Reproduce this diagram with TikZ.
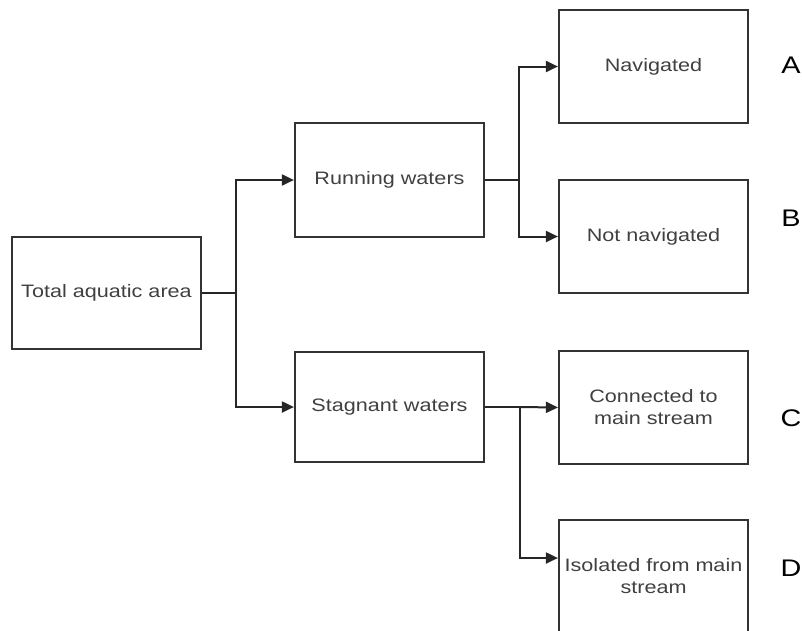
\documentclass[tikz,border=0pt]{standalone}
\usepackage{fontspec}
\setmainfont{Liberation Sans}[FakeStretch=1.2]
\usetikzlibrary{arrows.meta}
\tikzset{
  box/.style={draw=black!80, line width=2.2pt, minimum width=189pt, inner sep=0pt,
    align=center, text=black!75, font=\fontsize{18}{22}\selectfont},
  arr/.style={line width=2pt, draw=black!85, -{Triangle[length=12pt,width=11pt]}},
  ln/.style={line width=2pt, draw=black!85},
  lab/.style={font=\fontsize{24}{27}\selectfont, text=black}
}
\begin{document}
\begin{tikzpicture}[x=1pt,y=-1pt]
\useasboundingbox (0,0) rectangle (802,630);
\node[box, minimum height=112pt] (tot) at (106.5,293) {Total aquatic area};
\node[box, minimum height=114pt] (run) at (389.5,180) {Running waters};
\node[box, minimum height=110pt] (stag) at (389.5,407) {Stagnant waters};
\node[box, minimum height=113pt] (nav) at (653.5,66.5) {Navigated};
\node[box, minimum height=113pt] (notnav) at (653.5,236.5) {Not navigated};
\node[box, minimum height=113pt] (conn) at (653.5,407.5) {Connected to\\main stream};
\node[box, minimum height=112pt] (iso) at (653.5,576) {Isolated from main\\stream};
\coordinate (j1) at (236,293);
\coordinate (j2) at (519,180);
\coordinate (j3) at (520,407);
\coordinate (j4) at (520,558);
\draw[ln] (tot.east) -- (j1);
\draw[arr] (j1) |- (run.west);
\draw[arr] (j1) |- (stag.west);
\draw[ln] (run.east) -- (j2);
\draw[arr] (j2) |- (nav.west);
\draw[arr] (j2) |- (notnav.west);
\draw[ln] (stag.east) -- (j3);
\draw[arr] (j3) -- (conn.west);
\draw[arr] (j3) -- (j4) -- (iso.west |- j4);
\node[lab] (la) at (791,65) {A};
\node[lab] (lb) at (791,218) {B};
\node[lab] (lc) at (791,418) {C};
\node[lab] (ld) at (791,568) {D};
\end{tikzpicture}
\end{document}
